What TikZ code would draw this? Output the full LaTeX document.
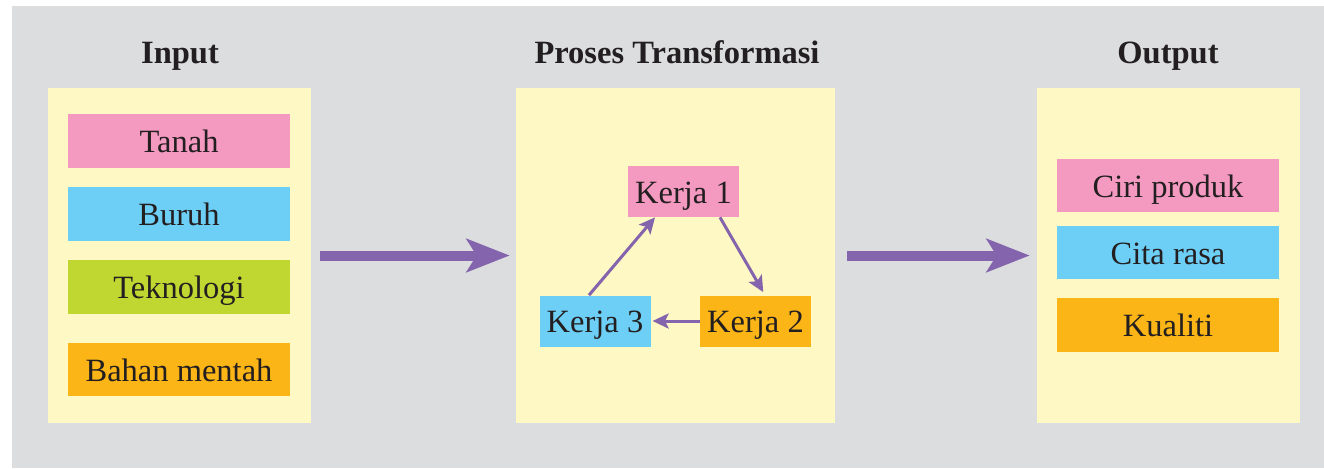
\documentclass[tikz,border=0pt]{standalone}
\usepackage{fontspec}
\setmainfont{Liberation Serif}
\usetikzlibrary{arrows.meta}

\definecolor{bggray}{HTML}{DCDDDF}
\definecolor{panelyellow}{HTML}{FEF8C4}
\definecolor{itempink}{HTML}{F49AC1}
\definecolor{itemblue}{HTML}{6DCFF6}
\definecolor{itemgreen}{HTML}{BFD730}
\definecolor{itemorange}{HTML}{FBB516}
\definecolor{arrowpurple}{HTML}{8464AC}
\definecolor{textdark}{HTML}{231F20}

\begin{document}
\begin{tikzpicture}[x=0.02cm, y=-0.02cm,
  font=\fontsize{18.5}{22}\selectfont, text=textdark,
  panel/.style={fill=panelyellow, minimum height=6.7cm, inner sep=0pt},
  item/.style={minimum width=4.44cm, minimum height=1.07cm, inner sep=0pt,
    text height=15pt, text depth=1.5pt},
  kerja/.style={minimum width=2.22cm, minimum height=1.02cm, inner sep=0pt,
    text height=15pt, text depth=1.5pt},
  title/.style={font=\fontsize{18.5}{22}\selectfont\bfseries, anchor=base},
  bigarrow/.style={arrowpurple, line width=0.2cm,
    -{Stealth[length=0.86cm, width=0.66cm, inset=0.2cm]}},
  smallarrow/.style={arrowpurple, line width=0.06cm,
    -{Stealth[length=0.32cm, width=0.3cm, inset=0.07cm]}}]
  \useasboundingbox (0,0) rectangle (1324,468);
  \fill[bggray] (12,6) rectangle (1324,468);

  % panels
  \node[panel, minimum width=5.26cm] (inp) at (179.5,255.5) {};
  \node[panel, minimum width=6.38cm] (proc) at (675.5,255.5) {};
  \node[panel, minimum width=5.26cm] (outp) at (1168.5,255.5) {};

  \node[title] (tinp) at (180,63) {Input};
  \node[title] (tproc) at (677,63) {Proses Transformasi};
  \node[title] (toutp) at (1168,63) {Output};

  % input
  \node[item, fill=itempink] (tanah) at (179,141) {Tanah};
  \node[item, fill=itemblue] (buruh) at (179,214) {Buruh};
  \node[item, fill=itemgreen] (tekno) at (179,287) {Teknologi};
  \node[item, fill=itemorange] (bahan) at (179,369.5) {Bahan mentah};

  % proses
  \node[kerja, fill=itempink] (k1) at (683.5,191.5) {Kerja 1};
  \node[kerja, fill=itemorange] (k2) at (755.5,321) {Kerja 2};
  \node[kerja, fill=itemblue] (k3) at (595,321) {Kerja 3};

  \draw[smallarrow] ([xshift=-0.12cm]k3.north) -- ([xshift=-0.57cm]k1.south);
  \draw[smallarrow, shorten >=2pt] ([xshift=0.73cm]k1.south) -- ([xshift=0.19cm]k2.north);
  \draw[smallarrow, shorten >=1pt] (k2.west) -- (k3.east);

  % output
  \node[item, fill=itempink] (ciri) at (1168,185.5) {Ciri produk};
  \node[item, fill=itemblue] (cita) at (1168,252.5) {Cita rasa};
  \node[item, fill=itemorange] (kual) at (1168,325) {Kualiti};

  \draw[bigarrow, shorten <=0.18cm, shorten >=0.12cm] (inp.east) -- (proc.west);
  \draw[bigarrow, shorten <=0.24cm, shorten >=0.14cm] (proc.east) -- (outp.west);
\end{tikzpicture}
\end{document}
